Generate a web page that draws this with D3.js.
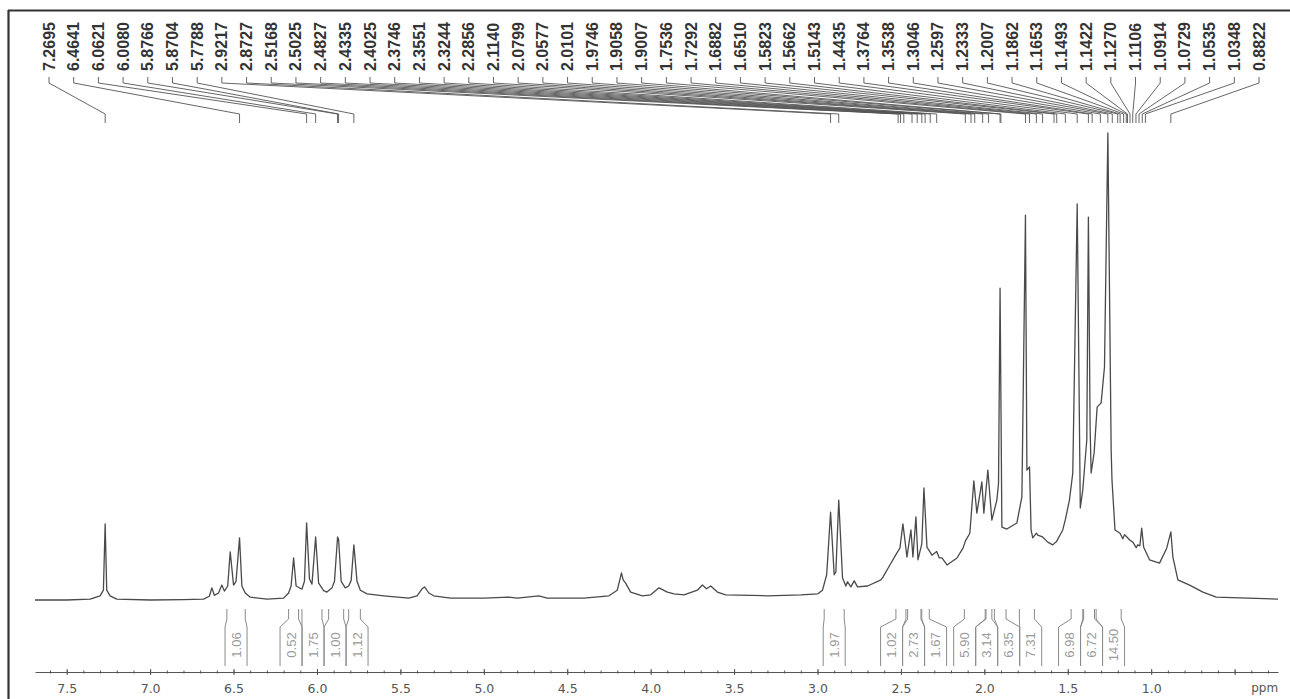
<!DOCTYPE html>
<html>
<head>
<meta charset="utf-8">
<script src="https://cdn.jsdelivr.net/npm/d3@7"></script>
<style>
  html, body { margin: 0; padding: 0; background: #ffffff; }
  svg { display: block; }
</style>
</head>
<body>
<svg id="chart" width="1290" height="699"></svg>
<script>
// ---------------- DATA ----------------
// Spectrum trace: [chemical shift (ppm), relative intensity (tallest = 100)]
const spectrum = [
  [7.69,0],[7.50,0],[7.36,0.2],[7.30,0.9],[7.28,2.1],[7.2695,16.3],[7.26,2.1],[7.24,0.9],[7.20,0.2],
  [7.00,0],[6.80,0.1],[6.68,0.2],[6.645,0.8],[6.63,2.6],[6.615,1.0],[6.59,1.5],[6.57,3.2],[6.555,1.9],
  [6.535,3.0],[6.52,10.3],[6.50,3.2],[6.485,4.0],[6.4641,13.3],[6.45,3.0],[6.43,1.5],[6.40,0.6],
  [6.30,0.2],[6.20,0.4],[6.17,1.5],[6.155,3.0],[6.14,9.0],[6.125,3.0],[6.09,2.3],[6.075,4.0],
  [6.0621,16.5],[6.045,4.5],[6.03,3.4],[6.0080,13.5],[5.99,3.6],[5.96,2.0],[5.94,1.7],[5.91,2.6],
  [5.895,4.0],[5.8766,13.5],[5.8704,13.0],[5.855,4.0],[5.83,2.6],[5.81,3.0],[5.795,4.2],[5.7788,11.8],
  [5.76,4.0],[5.74,2.1],[5.70,1.3],[5.60,0.9],[5.45,0.4],[5.40,0.9],[5.37,2.4],[5.355,2.8],[5.33,1.5],
  [5.30,0.9],[5.20,0.4],[5.00,0.4],[4.85,0.6],[4.80,0.4],[4.67,0.9],[4.62,0.4],[4.40,0.4],[4.25,0.9],
  [4.20,2.1],[4.175,5.8],[4.165,4.3],[4.15,3.6],[4.12,1.7],[4.05,0.9],[4.00,1.1],[3.95,2.6],[3.90,1.7],
  [3.86,1.3],[3.80,1.1],[3.72,2.1],[3.69,3.2],[3.665,2.4],[3.64,3.0],[3.60,1.7],[3.55,1.1],[3.30,0.9],
  [3.10,1.1],[3.00,1.3],[2.97,2.1],[2.945,5.4],[2.9217,18.8],[2.90,5.4],[2.89,6.0],[2.8727,21.4],
  [2.85,4.7],[2.83,3.0],[2.82,3.9],[2.80,2.8],[2.78,4.1],[2.76,2.8],[2.70,3.0],[2.62,4.3],[2.608,4.9],
  [2.566,7.5],[2.524,10.1],[2.506,11.1],[2.488,16.3],[2.464,9.2],[2.44,15.0],[2.428,9.2],[2.41,17.8],
  [2.398,8.6],[2.375,12.0],[2.362,24.0],[2.344,11.3],[2.324,10.2],[2.314,9.6],[2.2856,10.4],[2.27,9.0],
  [2.254,9.0],[2.224,7.5],[2.164,9.0],[2.128,11.1],[2.114,12.6],[2.087,14.3],[2.063,25.5],[2.045,18.6],
  [2.015,25.3],[2.003,18.6],[1.979,27.8],[1.955,17.1],[1.925,21.4],[1.915,25.0],[1.9058,66.8],[1.90,40.0],
  [1.895,15.6],[1.865,15.2],[1.805,16.5],[1.775,22.1],[1.7536,82.4],[1.745,27.8],[1.7292,28.5],[1.72,15.0],
  [1.71,13.3],[1.688,14.3],[1.68,13.9],[1.651,13.5],[1.62,12.4],[1.59,11.8],[1.566,12.6],[1.53,15.0],
  [1.514,17.3],[1.49,21.4],[1.47,27.2],[1.4435,84.8],[1.425,19.7],[1.41,23.6],[1.386,34.3],
  [1.3764,82.0],[1.366,36.8],[1.36,27.2],[1.342,31.5],[1.324,41.3],[1.30,42.2],[1.28,49.9],[1.2597,100],
  [1.24,32.1],[1.235,25.7],[1.217,15.0],[1.20,14.6],[1.187,14.3],[1.17,13.1],[1.16,14.0],[1.146,13.5],
  [1.127,12.8],[1.11,12.4],[1.09,11.2],[1.081,11.8],[1.068,11.6],[1.057,15.4],[1.045,11.3],[1.01,8.6],
  [0.95,7.9],[0.907,11.1],[0.8822,14.6],[0.87,9.2],[0.84,4.3],[0.77,3.2],[0.69,1.7],[0.61,0.6],[0.24,0.2]
];

// Peak-pick labels (ppm)
const peakLabels = [
  "7.2695","6.4641","6.0621","6.0080","5.8766","5.8704","5.7788","2.9217","2.8727","2.5168",
  "2.5025","2.4827","2.4335","2.4025","2.3746","2.3551","2.3244","2.2856","2.1140","2.0799",
  "2.0577","2.0101","1.9746","1.9058","1.9007","1.7536","1.7292","1.6882","1.6510","1.5823",
  "1.5662","1.5143","1.4435","1.3764","1.3538","1.3046","1.2597","1.2333","1.2007","1.1862",
  "1.1653","1.1493","1.1422","1.1270","1.1106","1.0914","1.0729","1.0535","1.0348","0.8822"
];

// Integration regions [from ppm, to ppm] and integral values
const integralRanges = [
  [6.54,6.43],[6.17,6.11],[6.09,5.97],[5.93,5.84],[5.81,5.74],[2.96,2.84],
  [2.53,2.47],[2.46,2.38],[2.375,2.33],[2.12,1.995],[1.99,1.955],[1.94,1.87],
  [1.79,1.70],[1.48,1.41],[1.405,1.34],[1.33,1.18]
];
const integralValues = [
  "1.06","0.52","1.75","1.00","1.12","1.97",
  "1.02","2.73","1.67","5.90","3.14","6.35",
  "7.31","6.98","6.72","14.50"
];

// Axis ticks
const majorTicks = [7.5,7.0,6.5,6.0,5.5,5.0,4.5,4.0,3.5,3.0,2.5,2.0,1.5,1.0,0.5];
const tickLabels = ["7.5","7.0","6.5","6.0","5.5","5.0","4.5","4.0","3.5","3.0","2.5","2.0","1.5","1.0",""];
const minorTicks = d3.range(76, 2, -1).map(v => v / 10);
const axisUnit = "ppm";

// ---------------- CHART ----------------
const svg = d3.select("#chart");
const x = d3.scaleLinear().domain([7.69, 0.24]).range([35, 1278]);
const y = d3.scaleLinear().domain([0, 100]).range([600, 133]);

// frame
svg.append("line").attr("x1", 8).attr("x2", 1290).attr("y1", 10.5).attr("y2", 10.5)
   .attr("stroke", "#333").attr("stroke-width", 2);
svg.append("line").attr("x1", 8.5).attr("x2", 8.5).attr("y1", 10).attr("y2", 699)
   .attr("stroke", "#333").attr("stroke-width", 2.2);

// spectrum
const line = d3.line().x(d => x(d[0])).y(d => y(d[1]));
svg.append("path").datum(spectrum).attr("d", line)
   .attr("fill", "none").attr("stroke", "#4a4a4a").attr("stroke-width", 1.3)
   .attr("stroke-linejoin", "round");

// peak labels + connectors
const labelX = d3.scalePoint().domain(d3.range(peakLabels.length)).range([49, 1259]);
const conn = svg.append("g").attr("fill", "none").attr("stroke", "#555").attr("stroke-width", 0.9);
peakLabels.forEach((lab, i) => {
  const xl = labelX(i), xp = x(+lab);
  conn.append("path").attr("d", `M${xl},77 L${xl},83 L${xp},114 L${xp},123`);
});
svg.append("g").selectAll("text").data(peakLabels).join("text")
   .attr("transform", (d, i) => `translate(${labelX(i)},71) rotate(-90)`)
   .attr("text-anchor", "start").attr("dominant-baseline", "central")
   .attr("font-family", "Liberation Sans, Arial, sans-serif")
   .attr("font-size", 16).attr("font-weight", "bold").attr("fill", "#333")
   .text(d => d);

// integrals: lay out label boxes (width bw), spread apart where they overlap
const bw = 22;
const items = integralRanges.map((r, i) => ({ i, xa: x(r[0]), xb: x(r[1]), c: (x(r[0]) + x(r[1])) / 2 }))
  .sort((a, b) => a.c - b.c);
let clusters = [];
items.forEach(it => {
  clusters.push({ members: [it] });
  let merged = true;
  while (merged && clusters.length > 1) {
    merged = false;
    const a = clusters[clusters.length - 2], b = clusters[clusters.length - 1];
    const ext = cl => { const m = d3.mean(cl.members, d => d.c); const n = cl.members.length;
      return [m - n * bw / 2, m + n * bw / 2]; };
    if (ext(a)[1] > ext(b)[0]) {
      a.members = a.members.concat(b.members); clusters.pop(); merged = true;
    }
  }
});
clusters.forEach(cl => {
  const m = d3.mean(cl.members, d => d.c), n = cl.members.length;
  const left = m - n * bw / 2;
  cl.members.forEach((it, k) => { it.bl = left + k * bw; it.br = left + (k + 1) * bw; });
});
const ig = svg.append("g");
items.forEach(it => {
  ig.append("path")
    .attr("d", `M${it.xa},609 L${it.xa},619 L${it.bl},627 L${it.bl},666 M${it.xb},609 L${it.xb},619 L${it.br},627 L${it.br},666`)
    .attr("fill", "none").attr("stroke", "#8a8a8a").attr("stroke-width", 1);
  ig.append("text")
    .attr("transform", `translate(${(it.bl + it.br) / 2},645) rotate(-90)`)
    .attr("text-anchor", "middle").attr("dominant-baseline", "central")
    .attr("font-family", "Liberation Sans, Arial, sans-serif").attr("font-size", 13)
    .attr("fill", "#9a9a9a").text(integralValues[it.i]);
});

// axis
const axisG = svg.append("g").attr("transform", "translate(0,672)");
axisG.call(d3.axisBottom(x).tickValues(minorTicks).tickSize(3).tickSizeOuter(0).tickFormat(""));
axisG.selectAll(".tick line").attr("y1", -1.5).attr("y2", 1.5);
axisG.select(".domain").attr("stroke", "#555").attr("stroke-width", 1.2);
axisG.selectAll("line").attr("stroke", "#555");
const majG = svg.append("g").attr("transform", "translate(0,672)");
majG.call(d3.axisBottom(x).tickValues(majorTicks).tickSize(4).tickSizeOuter(0)
  .tickPadding(8).tickFormat((d, i) => tickLabels[i]));
majG.select(".domain").remove();
majG.selectAll(".tick line").attr("y1", -3).attr("y2", 3).attr("stroke", "#555");
majG.selectAll(".tick text").attr("font-family", "DejaVu Sans, sans-serif").attr("font-size", 12.5)
  .attr("fill", "#555");
svg.append("text").attr("x", x(0.32)).attr("y", 692).attr("text-anchor", "middle")
  .attr("font-family", "DejaVu Sans, sans-serif").attr("font-size", 12).attr("fill", "#555")
  .text(axisUnit);
</script>
</body>
</html>
